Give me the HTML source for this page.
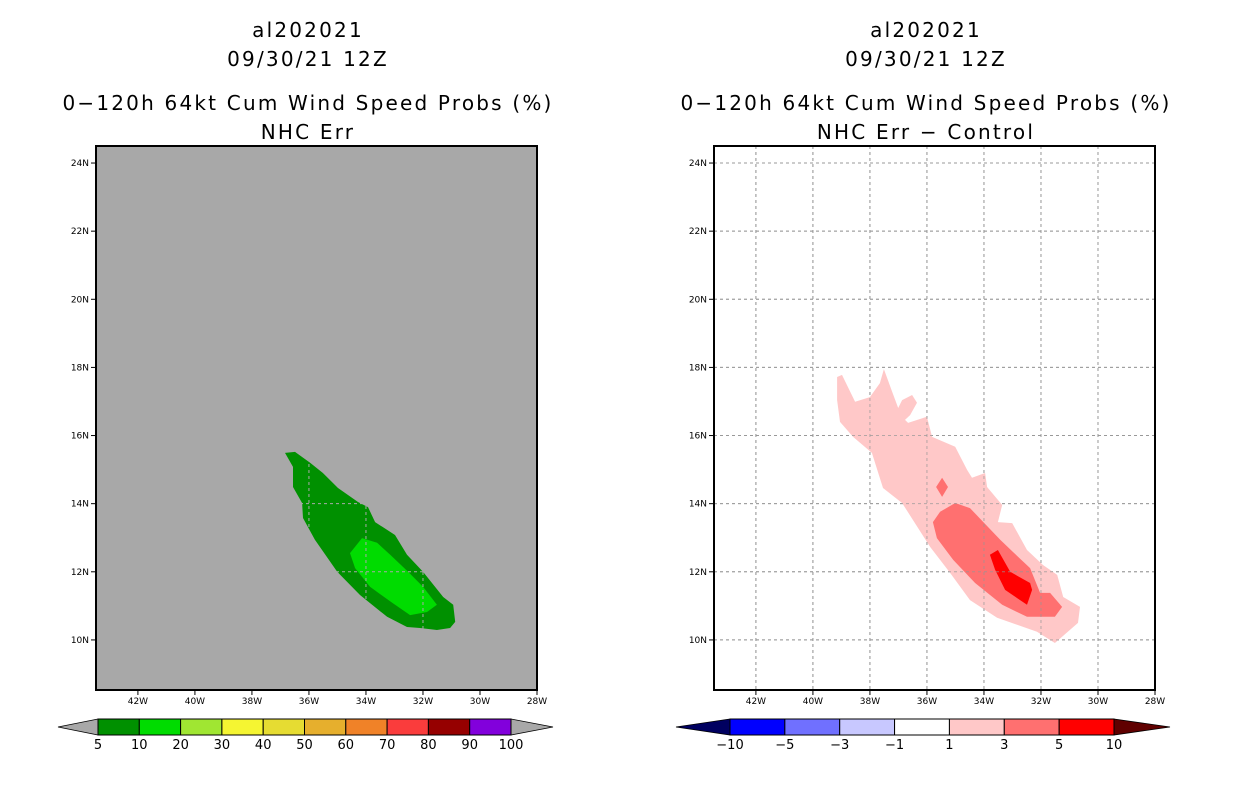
<!DOCTYPE html>
<html><head><meta charset="utf-8"><style>
html,body{margin:0;padding:0;background:#fff;width:1236px;height:800px;overflow:hidden}
svg text{font-family:"DejaVu Sans","Liberation Sans",sans-serif}
</style></head><body>
<svg id="chart" width="1236" height="800" xmlns="http://www.w3.org/2000/svg"></svg>
<script>
// ---- data ----
const lonTicks=[42,40,38,36,34,32,30,28];
const latTicks=[24,22,20,18,16,14,12,10];
const leftLevels=["5","10","20","30","40","50","60","70","80","90","100"];
const leftColors=["#009000","#00dc00","#a0e632","#f5f532","#e6dc32","#e6af2d","#f08228","#fa3c3c","#960000","#8200dc"];
const rightLevels=["−10","−5","−3","−1","1","3","5","10"];
const rightColors=["#0000ff","#7070ff","#c8c8ff","#ffffff","#ffc8c8","#ff7070","#ff0000"];
const greenOuterLon=[36.84,36.49,35.96,35.51,34.98,34.28,33.93,33.68,32.98,32.56,32.00,31.29,30.94,30.87,31.05,31.51,32.10,32.56,33.26,34.21,35.01,35.79,36.21,36.24,36.56,36.56];
const greenOuterLat=[15.49,15.52,15.20,14.90,14.46,14.05,13.90,13.46,13.08,12.50,12.00,11.26,11.03,10.53,10.35,10.29,10.35,10.38,10.68,11.32,12.00,12.94,13.58,14.02,14.49,15.08];
const greenInnerLon=[34.56,34.14,33.61,33.15,32.52,32.00,31.51,31.86,32.45,33.08,33.86,34.38];
const greenInnerLat=[12.55,12.99,12.85,12.50,12.00,11.56,11.03,10.82,10.73,11.09,11.56,12.11];
const pinkLon=[39.15,38.98,38.52,38.00,37.65,37.51,37.22,37.01,36.87,36.52,36.35,36.59,36.77,36.66,36.00,35.82,35.01,34.59,34.42,33.96,33.89,33.36,33.51,33.01,32.49,31.93,31.43,31.22,30.63,30.70,31.51,32.14,33.54,34.49,35.19,35.89,36.87,37.54,37.93,38.59,39.05,39.15];
const pinkLat=[17.72,17.78,16.99,17.13,17.54,17.95,17.28,16.81,17.04,17.19,16.96,16.60,16.46,16.37,16.55,15.96,15.67,14.99,14.76,14.90,14.49,13.96,13.46,13.43,12.64,12.20,11.91,11.26,10.97,10.50,9.91,10.24,10.65,11.17,11.97,12.73,14.02,14.46,15.49,15.96,16.40,17.04];
const salmonLon=[35.79,35.54,35.01,34.49,33.43,32.98,32.38,32.03,31.68,31.26,31.51,32.49,33.36,34.31,35.08,35.65];
const salmonLat=[13.46,13.76,14.02,13.87,12.94,12.58,12.11,11.38,11.38,10.97,10.68,10.68,11.03,11.67,12.35,12.99];
const diamondLon=[35.47,35.26,35.47,35.68];
const diamondLat=[14.76,14.49,14.20,14.49];
const redLon=[33.79,33.51,33.08,32.38,32.31,32.49,33.26,33.61];
const redLat=[12.50,12.64,12.00,11.67,11.47,11.03,11.47,12.06];

const NS="http://www.w3.org/2000/svg";
const svg=document.getElementById('chart');
function el(tag,attrs,parent){const e=document.createElementNS(NS,tag);for(const k in attrs)e.setAttribute(k,attrs[k]);(parent||svg).appendChild(e);return e;}
function txt(x,y,s,size,anchor,parent){const t=el('text',{x:x,y:y,'font-size':size,'text-anchor':anchor||'middle',fill:'#000'},parent);t.textContent=s;return t;}

function panel(x0,name){
  const g=el('g',{});
  
  
  const W=441,H=544,lonMax=43.47,lonMin=28,latMin=8.53,latMax=24.5;
  const sx=lonW=>x0+(lonMax-lonW)/(lonMax-lonMin)*W;
  const sy=lat=>146+(latMax-lat)/(latMax-latMin)*H;
  return {g,sx,sy,W,H};
}
function poly(p,lons,lats,fill,name){
  const pts=lons.map((l,i)=>p.sx(l).toFixed(1)+','+p.sy(lats[i]).toFixed(1)).join(' ');
  const e=el('polygon',{points:pts,fill:fill},p.g);
  
  
}
function grid(p,color){
  lonTicks.forEach(l=>{if(l>28){const x=p.sx(l);const e=el('line',{x1:x,x2:x,y1:146,y2:690,stroke:color,'stroke-width':1,'stroke-dasharray':'3,3'},p.g);
    
    }});
  latTicks.forEach(l=>{const y=p.sy(l);const e=el('line',{x1:p.sx(43.47),x2:p.sx(28),y1:y,y2:y,stroke:color,'stroke-width':1,'stroke-dasharray':'3,3'},p.g);
    
    });
}
function axes(p,x0){
  const f=el('rect',{x:x0,y:146,width:p.W,height:p.H,fill:'none',stroke:'#000','stroke-width':2},p.g);
  
  
  lonTicks.forEach(l=>{const x=p.sx(l);el('line',{x1:x,x2:x,y1:690,y2:695,stroke:'#000'},p.g);
    const t=txt(x,704,l+'W',9,'middle',p.g);
    
    });
  latTicks.forEach(l=>{const y=p.sy(l);el('line',{x1:x0-5,x2:x0,y1:y,y2:y,stroke:'#000'},p.g);
    const t=txt(x0-7,y+3,l+'N',9,'end',p.g);
    
    });
}
function titles(cx,l3,l4,prefix){
  [[30,'al202021'],[59,'09/30/21 12Z'],[103,l3],[132,l4]].forEach((a,i)=>{
    const t=txt(cx,a[0]+7,a[1],20);
    t.setAttribute('letter-spacing','2.2');
    
    
  });
}
function colorbar(x1,x2,tipL,tipR,colors,labels,lc,rc,name){
  const g=el('g',{});
  
  
  const y1=719,y2=735,w=(x2-x1)/colors.length;
  el('polygon',{points:`${x1},${y1} ${tipL},727 ${x1},${y2}`,fill:lc,stroke:'#000','stroke-width':0.8},g);
  el('polygon',{points:`${x2},${y1} ${tipR},727 ${x2},${y2}`,fill:rc,stroke:'#000','stroke-width':0.8},g);
  colors.forEach((c,i)=>{const r=el('rect',{x:x1+i*w,y:y1,width:w,height:y2-y1,fill:c,stroke:'#000','stroke-width':1},g);
    
    });
  labels.forEach((s,i)=>{const t=txt(x1+i*w,749,s,13,'middle',g);
    
    });
}

// left panel
const L=panel(96,'left-map-panel');
const bg=el('rect',{x:96,y:146,width:441,height:544,fill:'#a8a8a8'},L.g);


poly(L,greenOuterLon,greenOuterLat,'#009000','contour-5-10');
poly(L,greenInnerLon,greenInnerLat,'#00dc00','contour-10-20');
grid(L,'#a8a8a8');
axes(L,96);
titles(308,'0−120h 64kt Cum Wind Speed Probs (%)','NHC Err','left');
colorbar(98,511,58,553,leftColors,leftLevels,'#a8a8a8','#a8a8a8','left-colorbar');

// right panel
const R=panel(714,'right-map-panel');
grid(R,'#a0a0a0');
poly(R,pinkLon,pinkLat,'#ffc8c8','diff-contour-1-3');
poly(R,salmonLon,salmonLat,'#ff7070','diff-contour-3-5');
poly(R,diamondLon,diamondLat,'#ff7070','diff-contour-3-5-small');
poly(R,redLon,redLat,'#ff0000','diff-contour-5-10');
grid(R,'rgba(150,150,150,0.7)');
axes(R,714);
titles(926,'0−120h 64kt Cum Wind Speed Probs (%)','NHC Err − Control','right');
colorbar(730,1114,676,1170,rightColors,rightLevels,'#000060','#600000','right-colorbar');
</script>
</body></html>
